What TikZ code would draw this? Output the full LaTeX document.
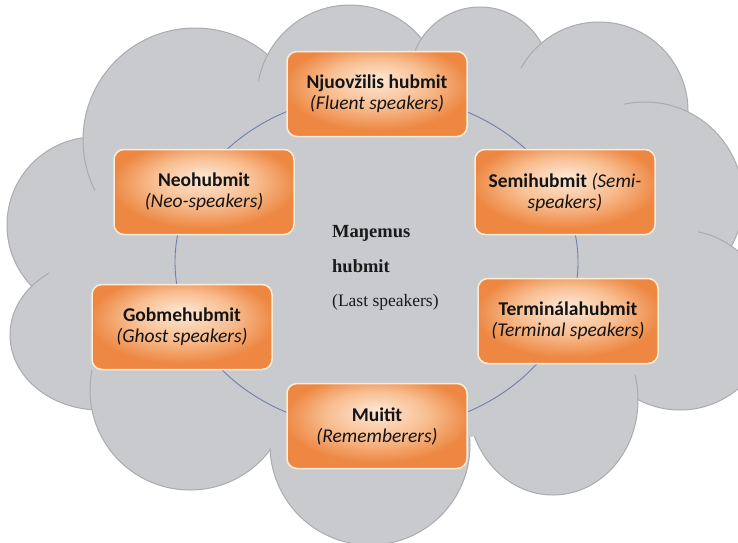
\documentclass[tikz,border=0pt]{standalone}
\usepackage{fontspec}
\setmainfont{Carlito}
\newfontfamily\timesfont{Liberation Serif}
\definecolor{cloudfill}{RGB}{201,202,205}
\definecolor{cloudline}{RGB}{170,171,175}
\definecolor{ringline}{RGB}{112,126,172}
\definecolor{boxlight}{RGB}{253,232,214}
\definecolor{boxmid}{RGB}{248,190,145}
\definecolor{boxdark}{RGB}{237,135,66}
\definecolor{boxedge}{RGB}{253,236,214}
\pgfdeclareradialshading{boxshade}{\pgfpoint{0bp}{9bp}}{color(0bp)=(boxlight); color(14bp)=(boxmid); color(26bp)=(boxdark); color(50bp)=(boxdark)}
\tikzset{
  cloudpart/.style={fill=cloudfill, draw=cloudline, line width=1pt},
  spkbox/.style={rounded corners=10pt, draw=boxedge, line width=1.5pt, shading=boxshade,
    minimum width=180pt, minimum height=85pt, align=center, inner sep=2pt,
    font=\fontsize{19.5}{21}\selectfont, text=black!92},
  midtext/.style={anchor=base west, inner sep=0pt, text=black!90}
}
\begin{document}
\begin{tikzpicture}[x=1pt,y=-1pt]
\useasboundingbox (0,0) rectangle (738,542);
\clip (0,0) rectangle (738,542);
\fill[white] (0,0) rectangle (738,542);
% cloud
\draw[cloudpart] (95,225) circle [radius=88];
\draw[cloudpart] (195,140) circle [radius=112];
\draw[cloudpart] (350,98) circle [radius=93];
\draw[cloudpart] (480,77) circle [radius=70];
\draw[cloudpart] (599,111) circle [radius=89];
\draw[cloudpart] (645,200) circle [radius=98];
\draw[cloudpart] (680,320) circle [radius=90];
\draw[cloudpart] (553,400) ellipse [x radius=85, y radius=95];
\draw[cloudpart] (100,335) ellipse [x radius=90, y radius=75];
\draw[cloudpart] (190,390) circle [radius=100];
\draw[cloudpart] (370,445) circle [radius=100];
\fill[cloudfill] plot[smooth cycle] coordinates {(110,175) (280,72) (418,70) (541,72) (668,138) (700,290) (620,385) (465,438) (268,448) (112,388) (48,285)};
% ring
\coordinate (ringc) at (376.5,262);
\draw[ringline, line width=0.9pt] (ringc) ellipse [x radius=201.5, y radius=168];
% boxes
\node[spkbox] (njuo) at (377,94) {\textbf{Njuovžilis hubmit}\\\textit{(Fluent speakers)}};
\node[spkbox] (semi) at (565,192) {\textbf{Semihubmit} \textit{(Semi-}\\\textit{speakers)}};
\node[spkbox] (neo) at (204,192) {\textbf{Neohubmit}\\\textit{(Neo-speakers)}};
\node[spkbox] (gobme) at (182,327) {\textbf{Gobmehubmit}\\\textit{(Ghost speakers)}};
\node[spkbox] (term) at (568,321) {\textbf{Terminálahubmit}\\\textit{(Terminal speakers)}};
\node[spkbox] (muitit) at (377,426) {\textbf{Muitit}\\\textit{(Rememberers)}};
% centre text
\node[midtext, font=\timesfont\bfseries\fontsize{18.5}{20}\selectfont] (last1) at (332,237) {Maŋemus};
\node[midtext, font=\timesfont\bfseries\fontsize{18.5}{20}\selectfont] (last2) at (332,272) {hubmit};
\node[midtext, font=\timesfont\fontsize{17.5}{20}\selectfont] (last3) at (332,306) {(Last speakers)};
\end{tikzpicture}
\end{document}
